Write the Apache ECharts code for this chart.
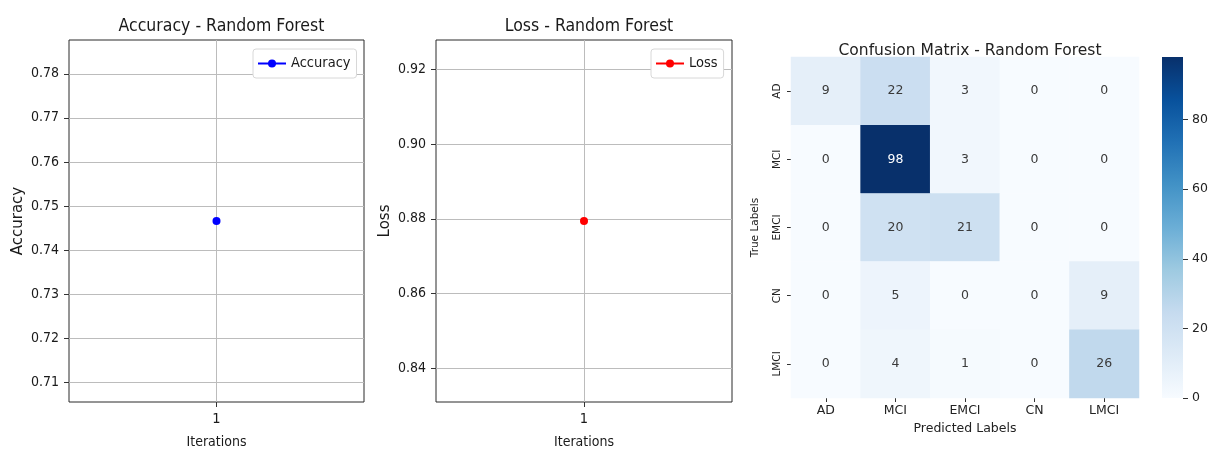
<!DOCTYPE html>
<html>
<head>
<meta charset="utf-8">
<script src="https://cdn.jsdelivr.net/npm/echarts@6/dist/echarts.min.js"></script>
<style>html,body{margin:0;padding:0;background:#fff}#c{width:1220px;height:454px}</style>
</head>
<body>
<div id="c"></div>
<script>
// ---- data ----
const iterations = [1];
const accuracyValues = [0.7466];
const lossValues = [0.8794];
const accTicks = [0.71, 0.72, 0.73, 0.74, 0.75, 0.76, 0.77, 0.78];
const lossTicks = [0.84, 0.86, 0.88, 0.90, 0.92];
const predictedLabels = ['AD', 'MCI', 'EMCI', 'CN', 'LMCI'];
const trueLabels = ['AD', 'MCI', 'EMCI', 'CN', 'LMCI'];
const confusion = [
  [9, 22, 3, 0, 0],
  [0, 98, 3, 0, 0],
  [0, 20, 21, 0, 0],
  [0, 5, 0, 0, 9],
  [0, 4, 1, 0, 26]
];
const colorbarTicks = [0, 20, 40, 60, 80];
const blues = ['#f7fbff', '#deebf7', '#c6dbef', '#9ecae1', '#6baed6', '#4292c6', '#2171b5', '#08519c', '#08306b'];

// ---- derived ----
const cmMax = Math.max(...confusion.flat());
const heatData = [];
confusion.forEach((row, i) => row.forEach((v, j) => {
  heatData.push({ value: [j, i, v], label: { color: v / cmMax > 0.6 ? '#ffffff' : '#3a3a3a' } });
}));
function mplRange(v) { const p = Math.abs(v) * 0.055; return [v - p, v + p]; }
const accRange = mplRange(accuracyValues[0]);
const lossRange = mplRange(lossValues[0]);

const condensed = '"DejaVu Sans Condensed", "DejaVu Sans", sans-serif';
const dejavu = '"DejaVu Sans", sans-serif';
const txt = '#1a1a1a';
const gridCol = '#bcbcbc';

function lineXAxis(gi) {
  return {
    type: 'value', gridIndex: gi, min: 0, max: 2,
    name: 'Iterations', nameLocation: 'middle', nameGap: 33,
    nameTextStyle: { fontFamily: condensed, fontSize: 14, color: txt },
    axisLine: { show: false },
    axisTick: { show: true, length: 5, customValues: iterations, lineStyle: { color: '#333' } },
    axisLabel: { customValues: iterations, margin: 10, fontFamily: condensed, fontSize: 14.5, color: txt },
    splitLine: { show: true, lineStyle: { color: gridCol, width: 1 } }
  };
}
function lineYAxis(gi, name, range, ticks, digits) {
  return {
    type: 'value', gridIndex: gi, min: range[0], max: range[1],
    name: name, nameLocation: 'middle', nameGap: 43,
    nameTextStyle: { fontFamily: dejavu, fontSize: 15, color: txt },
    axisLine: { show: false },
    axisTick: { show: true, length: 5, customValues: ticks, lineStyle: { color: '#333' } },
    axisLabel: { customValues: ticks, margin: 10, fontFamily: condensed, fontSize: 14, color: txt,
      formatter: v => v.toFixed(digits) },
    splitLine: { show: true, lineStyle: { color: gridCol, width: 1 } }
  };
}
function legendFor(name, left) {
  return { data: [name], left: left, top: 49, orient: 'vertical',
    padding: [7, 6, 7, 4], itemWidth: 28, itemHeight: 10, itemGap: 4,
    borderColor: '#d8d8d8', borderWidth: 1, borderRadius: 3, backgroundColor: '#fff',
    textStyle: { fontFamily: condensed, fontSize: 14.5, color: txt } };
}

const chart = echarts.init(document.getElementById('c'));
chart.setOption({
  animation: false,
  backgroundColor: '#ffffff',
  title: [
    { text: 'Accuracy - Random Forest', left: 216.5, top: 12, textAlign: 'center',
      textStyle: { fontFamily: condensed, fontSize: 17.5, fontWeight: 'normal', color: txt } },
    { text: 'Loss - Random Forest', left: 584, top: 12, textAlign: 'center',
      textStyle: { fontFamily: condensed, fontSize: 17.5, fontWeight: 'normal', color: txt } },
    { text: 'Confusion Matrix - Random Forest', left: 965, top: 38, textAlign: 'center',
      textStyle: { fontFamily: dejavu, fontSize: 15.5, fontWeight: 'normal', color: '#222' } }
  ],
  legend: [legendFor('Accuracy', 253), legendFor('Loss', 651)],
  grid: [
    { left: 69, top: 40, width: 295, height: 366, show: true, borderColor: '#2a2a2a', borderWidth: 1, backgroundColor: 'transparent' },
    { left: 436, top: 40, width: 296, height: 366, show: true, borderColor: '#2a2a2a', borderWidth: 1, backgroundColor: 'transparent' },
    { left: 791, top: 57, width: 348, height: 341 },
    { left: 1162, top: 57, width: 21, height: 341 }
  ],
  xAxis: [
    lineXAxis(0),
    lineXAxis(1),
    { type: 'category', gridIndex: 2, data: predictedLabels,
      name: 'Predicted Labels', nameLocation: 'middle', nameGap: 20,
      nameTextStyle: { fontFamily: dejavu, fontSize: 12.5, color: '#222' },
      axisLine: { show: false },
      axisTick: { show: true, alignWithLabel: true, length: 4, lineStyle: { color: '#333' } },
      axisLabel: { margin: 6, fontFamily: dejavu, fontSize: 12.5, color: '#222' },
      splitLine: { show: false } },
    { type: 'category', gridIndex: 3, data: ['cb'], show: false }
  ],
  yAxis: [
    lineYAxis(0, 'Accuracy', accRange, accTicks, 2),
    lineYAxis(1, 'Loss', lossRange, lossTicks, 2),
    { type: 'category', gridIndex: 2, data: trueLabels, inverse: true,
      name: 'True Labels', nameLocation: 'middle', nameGap: 30,
      nameTextStyle: { fontFamily: dejavu, fontSize: 10.5, color: '#222' },
      axisLine: { show: false },
      axisTick: { show: true, alignWithLabel: true, length: 4, lineStyle: { color: '#333' } },
      axisLabel: { rotate: 90, margin: 8, fontFamily: dejavu, fontSize: 10.5, color: '#222' },
      splitLine: { show: false } },
    { type: 'value', gridIndex: 3, position: 'right', min: 0, max: cmMax,
      axisLine: { show: false },
      axisTick: { show: true, length: 5, customValues: colorbarTicks, lineStyle: { color: '#333' } },
      axisLabel: { customValues: colorbarTicks, margin: 9, fontFamily: dejavu, fontSize: 12.5, color: '#222' },
      splitLine: { show: false } }
  ],
  visualMap: {
    show: false, type: 'continuous', min: 0, max: cmMax, seriesIndex: 2,
    inRange: { color: blues }
  },
  series: [
    { name: 'Accuracy', type: 'line', xAxisIndex: 0, yAxisIndex: 0,
      data: iterations.map((x, i) => [x, accuracyValues[i]]),
      symbol: 'circle', symbolSize: 8, color: '#0000ff',
      lineStyle: { color: '#0000ff', width: 2 }, itemStyle: { color: '#0000ff' } },
    { name: 'Loss', type: 'line', xAxisIndex: 1, yAxisIndex: 1,
      data: iterations.map((x, i) => [x, lossValues[i]]),
      symbol: 'circle', symbolSize: 8, color: '#ff0000',
      lineStyle: { color: '#ff0000', width: 2 }, itemStyle: { color: '#ff0000' } },
    { type: 'heatmap', xAxisIndex: 2, yAxisIndex: 2, data: heatData,
      label: { show: true, fontFamily: dejavu, fontSize: 12.5 },
      itemStyle: { borderWidth: 0 } },
    { type: 'bar', xAxisIndex: 3, yAxisIndex: 3, data: [cmMax], barWidth: '100%',
      silent: true,
      itemStyle: { color: { type: 'linear', x: 0, y: 1, x2: 0, y2: 0,
        colorStops: blues.map((c, i) => ({ offset: i / (blues.length - 1), color: c })) } } }
  ]
});
</script>
</body>
</html>
